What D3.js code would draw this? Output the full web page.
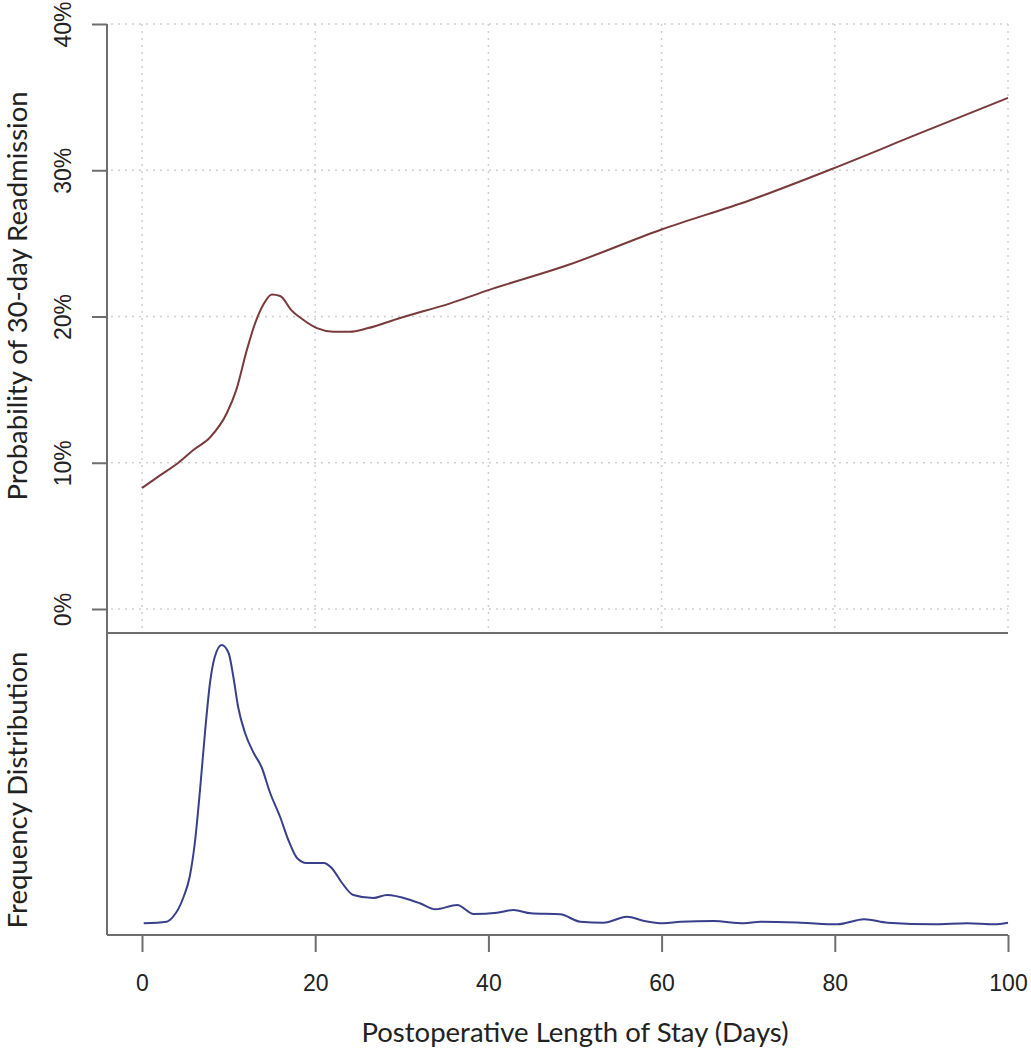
<!DOCTYPE html>
<html><head><meta charset="utf-8">
<script src="https://cdn.jsdelivr.net/npm/d3@7"></script>
<style>body{margin:0;background:#fff}svg{display:block}</style>
</head><body>
<div id="chart"></div>
<script>
// ---- data ----
const xTicks = [0, 20, 40, 60, 80, 100];
const xTickLabels = ["0", "20", "40", "60", "80", "100"];
const yTicks = [0, 10, 20, 30, 40];
const yTickLabels = ["0%", "10%", "20%", "30%", "40%"];

// predicted probability of 30-day readmission (%) by postoperative length of stay (days)
const probDays = [0, 2, 4.2, 6, 7.9, 9.8, 10.9, 12.1, 13.1, 14.0, 15.0, 15.95, 17.3, 18.65, 20.2, 22.1, 24.0, 26.0, 29.8, 35.6, 40, 49.1, 60, 70.2, 79.5, 89.7, 100];
const probValues = [8.27, 9.1, 10.0, 10.9, 11.76, 13.4, 15.0, 17.7, 19.6, 20.8, 21.5, 21.4, 20.4, 19.76, 19.2, 18.96, 18.96, 19.19, 19.9, 20.9, 21.8, 23.5, 25.95, 27.95, 30.05, 32.5, 34.95];

// frequency distribution (relative density, arbitrary units) of length of stay
const densDays = [0.2, 2.85, 3.6, 4.8, 5.5, 6.1, 6.7, 7.3, 7.85, 8.4, 9.2, 10.0, 10.55, 11.1, 11.9, 12.9, 13.8, 14.8, 15.95, 16.9, 17.9, 19.0, 21.0, 21.9, 23.1, 24.4, 26.7, 28.3, 31.0, 32.1, 33.9, 36.4, 38.3, 41.0, 42.9, 44.9, 48.3, 50.6, 53.3, 56.0, 58, 60.2, 62.2, 66.0, 69.5, 71.4, 76.1, 80.3, 83.4, 86.1, 91.5, 95.3, 98.4, 100];
const densValues = [11.7, 13.3, 18.3, 38, 58, 92, 145, 205, 252, 278, 290, 282, 258, 228, 202, 182, 168, 142, 118, 95, 77, 72, 72, 67, 52, 40, 37, 40, 35, 31.7, 25.7, 30, 21, 22.3, 25, 21.7, 20.7, 13.3, 12.3, 18.3, 14, 11.7, 13.3, 14, 11.7, 13.3, 12.3, 10.7, 15.7, 12.3, 10.7, 11.7, 10.7, 12.3];

// ---- layout ----
const W = 1031, H = 1050;
const left = 107, right = 1008;
const topPanelTop = 24, sep = 633, bottom = 935;

const svg = d3.select("#chart").append("svg").attr("width", W).attr("height", H);

const x = d3.scaleLinear().domain([0, 100]).range([142, 1008]);
const yTop = d3.scaleLinear().domain([0, 40]).range([609, 24]);
const yBot = d3.scaleLinear().domain([0, 300]).range([935, 635]);

const axisColor = "#6e6e6e";
const gridColor = "#cfcfcf";
const tickFont = "'Liberation Sans', Arial, sans-serif";
const titleFont = "Lato, 'Open Sans', sans-serif";

// grid (top panel)
const grid = svg.append("g");
grid.selectAll("line.v").data(xTicks).join("line")
  .attr("x1", d => x(d)).attr("x2", d => x(d))
  .attr("y1", topPanelTop).attr("y2", sep)
  .attr("stroke", gridColor).attr("stroke-width", 1.5).attr("stroke-dasharray", "2,5");
grid.selectAll("line.h").data(yTicks).join("line")
  .attr("x1", left + 4).attr("x2", right)
  .attr("y1", d => yTop(d)).attr("y2", d => yTop(d))
  .attr("stroke", gridColor).attr("stroke-width", 1.5).attr("stroke-dasharray", "2,5");

// top curve
const lineTop = d3.line().x((d, i) => x(probDays[i])).y(d => yTop(d)).curve(d3.curveMonotoneX);
svg.append("path").attr("d", lineTop(probValues))
  .attr("fill", "none").attr("stroke", "#7a3a3c").attr("stroke-width", 2);

// bottom curve
const lineBot = d3.line().x((d, i) => x(densDays[i])).y(d => yBot(d)).curve(d3.curveMonotoneX);
svg.append("path").attr("d", lineBot(densValues))
  .attr("fill", "none").attr("stroke", "#3a3f8c").attr("stroke-width", 2);

// left y-axis (top panel)
const yAxis = d3.axisLeft(yTop).tickValues(yTicks).tickFormat((d, i) => yTickLabels[i]).tickSize(15);
const gy = svg.append("g").attr("transform", `translate(${left},0)`).call(yAxis);
gy.select(".domain").remove();
gy.selectAll(".tick line").attr("stroke", axisColor).attr("stroke-width", 2);
gy.selectAll(".tick text")
  .attr("font-family", tickFont).attr("font-size", 23).attr("fill", "#222")
  .attr("text-anchor", "middle").attr("dy", 0).attr("x", 0).attr("y", 0)
  .attr("transform", "translate(-36,0) rotate(-90)");

// bottom x-axis
const xAxis = d3.axisBottom(x).tickValues(xTicks).tickFormat((d, i) => xTickLabels[i]).tickSize(17).tickPadding(23);
const gx = svg.append("g").attr("transform", `translate(0,${bottom})`).call(xAxis);
gx.select(".domain").remove();
gx.selectAll(".tick line").attr("stroke", axisColor).attr("stroke-width", 2);
gx.selectAll(".tick text").attr("font-family", tickFont).attr("font-size", 23).attr("fill", "#222");

// frame lines
svg.append("line").attr("x1", left).attr("x2", left).attr("y1", topPanelTop).attr("y2", bottom)
  .attr("stroke", axisColor).attr("stroke-width", 2);
svg.append("line").attr("x1", left).attr("x2", right).attr("y1", sep).attr("y2", sep)
  .attr("stroke", axisColor).attr("stroke-width", 2);
svg.append("line").attr("x1", left).attr("x2", right).attr("y1", bottom).attr("y2", bottom)
  .attr("stroke", axisColor).attr("stroke-width", 2);

// titles
svg.append("text").attr("x", 575).attr("y", 1042).attr("text-anchor", "middle")
  .attr("font-family", titleFont).attr("font-size", 27.5).attr("fill", "#222")
  .text("Postoperative Length of Stay (Days)");
svg.append("text").attr("transform", "translate(27,296) rotate(-90)").attr("text-anchor", "middle")
  .attr("font-family", titleFont).attr("font-size", 27.5).attr("fill", "#222")
  .text("Probability of 30-day Readmission");
svg.append("text").attr("transform", "translate(27,790) rotate(-90)").attr("text-anchor", "middle")
  .attr("font-family", titleFont).attr("font-size", 27.5).attr("fill", "#222")
  .text("Frequency Distribution");
</script>
</body></html>
